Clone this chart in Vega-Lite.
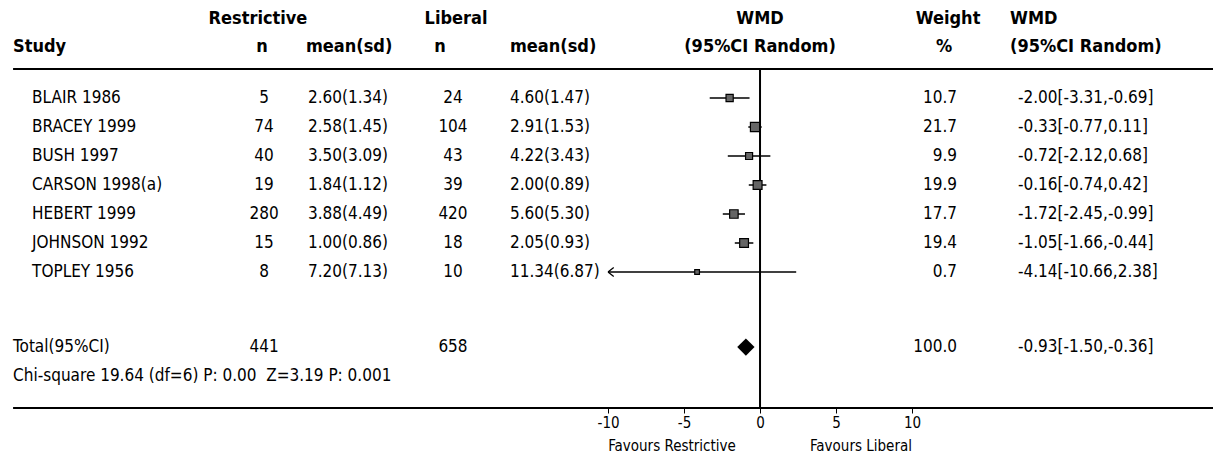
{
  "$schema": "https://vega.github.io/schema/vega-lite/v6.json",
  "width": 1213,
  "height": 408,
  "padding": 0,
  "autosize": {"type": "pad"},
  "background": "white",
  "config": {
    "view": {"stroke": null},
    "text": {"font": "DejaVu Sans Condensed, sans-serif", "fontSize": 17, "color": "black", "baseline": "middle"},
    "axisX": {"domain": false, "grid": false, "ticks": true, "tickSize": 5, "tickColor": "black", "tickWidth": 1, "labelFont": "DejaVu Sans Condensed, sans-serif", "labelFontSize": 15, "labelColor": "black", "labelPadding": 2, "labelFlush": false, "labelOverlap": false, "title": null}
  },
  "datasets": {
    "studies": [
      {"study": "BLAIR 1986", "row": 1, "kind": "study", "n_r": 5, "msd_r": "2.60(1.34)", "n_l": 24, "msd_l": "4.60(1.47)", "weight": 10.7, "wmd": -2.00, "lo": -3.31, "hi": -0.69, "wmd_ci": "-2.00[-3.31,-0.69]"},
      {"study": "BRACEY 1999", "row": 2, "kind": "study", "n_r": 74, "msd_r": "2.58(1.45)", "n_l": 104, "msd_l": "2.91(1.53)", "weight": 21.7, "wmd": -0.33, "lo": -0.77, "hi": 0.11, "wmd_ci": "-0.33[-0.77,0.11]"},
      {"study": "BUSH 1997", "row": 3, "kind": "study", "n_r": 40, "msd_r": "3.50(3.09)", "n_l": 43, "msd_l": "4.22(3.43)", "weight": 9.9, "wmd": -0.72, "lo": -2.12, "hi": 0.68, "wmd_ci": "-0.72[-2.12,0.68]"},
      {"study": "CARSON 1998(a)", "row": 4, "kind": "study", "n_r": 19, "msd_r": "1.84(1.12)", "n_l": 39, "msd_l": "2.00(0.89)", "weight": 19.9, "wmd": -0.16, "lo": -0.74, "hi": 0.42, "wmd_ci": "-0.16[-0.74,0.42]"},
      {"study": "HEBERT 1999", "row": 5, "kind": "study", "n_r": 280, "msd_r": "3.88(4.49)", "n_l": 420, "msd_l": "5.60(5.30)", "weight": 17.7, "wmd": -1.72, "lo": -2.45, "hi": -0.99, "wmd_ci": "-1.72[-2.45,-0.99]"},
      {"study": "JOHNSON 1992", "row": 6, "kind": "study", "n_r": 15, "msd_r": "1.00(0.86)", "n_l": 18, "msd_l": "2.05(0.93)", "weight": 19.4, "wmd": -1.05, "lo": -1.66, "hi": -0.44, "wmd_ci": "-1.05[-1.66,-0.44]"},
      {"study": "TOPLEY 1956", "row": 7, "kind": "study", "n_r": 8, "msd_r": "7.20(7.13)", "n_l": 10, "msd_l": "11.34(6.87)", "weight": 0.7, "wmd": -4.14, "lo": -10.66, "hi": 2.38, "wmd_ci": "-4.14[-10.66,2.38]"},
      {"study": "Total(95%CI)", "row": 9.59, "kind": "total", "n_r": 441, "msd_r": "", "n_l": 658, "msd_l": "", "weight": 100.0, "wmd": -0.93, "lo": -1.50, "hi": -0.36, "wmd_ci": "-0.93[-1.50,-0.36]"}
    ]
  },
  "data": {"name": "studies"},
  "layer": [
    {
      "data": {"values": [{"z": 0}]},
      "mark": {"type": "rule", "color": "black", "strokeWidth": 2},
      "encoding": {
        "x": {"datum": 0, "type": "quantitative", "scale": {"domain": [-50, 29.8], "nice": false, "zero": false}, "axis": {"values": [-10, -5, 0, 5, 10], "labelExpr": "'' + datum.value", "orient": "bottom"}},
        "y": {"datum": 0, "type": "quantitative", "scale": {"domain": [-2.38, 11.69], "reverse": true, "nice": false, "zero": false}, "axis": null},
        "y2": {"datum": 11.69}
      }
    },
    {
      "data": {"values": [{"z": 0}]},
      "mark": {"type": "rule", "color": "black", "strokeWidth": 2},
      "encoding": {
        "x": {"datum": -49.14, "type": "quantitative", "scale": {"domain": [-50, 29.8], "nice": false, "zero": false}, "axis": {"values": [-10, -5, 0, 5, 10], "labelExpr": "'' + datum.value", "orient": "bottom"}},
        "x2": {"datum": 29.8},
        "y": {"datum": 0, "type": "quantitative", "scale": {"domain": [-2.38, 11.69], "reverse": true, "nice": false, "zero": false}, "axis": null}
      }
    },
    {
      "data": {"values": [{"z": 0}]},
      "mark": {"type": "rule", "color": "black", "strokeWidth": 2},
      "encoding": {
        "x": {"datum": -49.14, "type": "quantitative", "scale": {"domain": [-50, 29.8], "nice": false, "zero": false}, "axis": {"values": [-10, -5, 0, 5, 10], "labelExpr": "'' + datum.value", "orient": "bottom"}},
        "x2": {"datum": 29.8},
        "y": {"datum": 11.69, "type": "quantitative", "scale": {"domain": [-2.38, 11.69], "reverse": true, "nice": false, "zero": false}, "axis": null}
      }
    },
    {
      "transform": [{"filter": "datum.kind == 'study' && datum.lo >= -10"}],
      "mark": {"type": "rule", "color": "black", "strokeWidth": 1.5},
      "encoding": {
        "x": {"field": "lo", "type": "quantitative", "scale": {"domain": [-50, 29.8], "nice": false, "zero": false}, "axis": {"values": [-10, -5, 0, 5, 10], "labelExpr": "'' + datum.value", "orient": "bottom"}},
        "x2": {"field": "hi"},
        "y": {"field": "row", "type": "quantitative", "scale": {"domain": [-2.38, 11.69], "reverse": true, "nice": false, "zero": false}, "axis": null}
      }
    },
    {
      "transform": [{"filter": "datum.kind == 'study' && datum.lo < -10"}],
      "mark": {"type": "rule", "color": "black", "strokeWidth": 1.5},
      "encoding": {
        "x": {"field": "hi", "type": "quantitative", "scale": {"domain": [-50, 29.8], "nice": false, "zero": false}, "axis": {"values": [-10, -5, 0, 5, 10], "labelExpr": "'' + datum.value", "orient": "bottom"}},
        "x2": {"datum": -10},
        "y": {"field": "row", "type": "quantitative", "scale": {"domain": [-2.38, 11.69], "reverse": true, "nice": false, "zero": false}, "axis": null}
      }
    },
    {
      "transform": [{"filter": "datum.kind == 'study' && datum.lo < -10"}],
      "mark": {"type": "point", "shape": "M 0 0 L 1 -0.8 M 0 0 L 1 0.8", "filled": false, "stroke": "black", "strokeWidth": 1.3, "size": 130, "opacity": 1},
      "encoding": {
        "x": {"datum": -10, "type": "quantitative", "scale": {"domain": [-50, 29.8], "nice": false, "zero": false}, "axis": {"values": [-10, -5, 0, 5, 10], "labelExpr": "'' + datum.value", "orient": "bottom"}},
        "y": {"field": "row", "type": "quantitative", "scale": {"domain": [-2.38, 11.69], "reverse": true, "nice": false, "zero": false}, "axis": null}
      }
    },
    {
      "transform": [{"filter": "datum.kind == 'study'"}],
      "mark": {"type": "point", "shape": "square", "filled": true, "fill": "#666", "stroke": "black", "strokeWidth": 1.2, "opacity": 1},
      "encoding": {
        "x": {"field": "wmd", "type": "quantitative", "scale": {"domain": [-50, 29.8], "nice": false, "zero": false}, "axis": {"values": [-10, -5, 0, 5, 10], "labelExpr": "'' + datum.value", "orient": "bottom"}},
        "y": {"field": "row", "type": "quantitative", "scale": {"domain": [-2.38, 11.69], "reverse": true, "nice": false, "zero": false}, "axis": null},
        "size": {"field": "weight", "type": "quantitative", "scale": {"domain": [0, 22], "range": [20, 85]}, "legend": null}
      }
    },
    {
      "transform": [{"filter": "datum.kind == 'total'"}],
      "mark": {"type": "point", "shape": "diamond", "filled": true, "color": "black", "size": 300, "opacity": 1},
      "encoding": {
        "x": {"field": "wmd", "type": "quantitative", "scale": {"domain": [-50, 29.8], "nice": false, "zero": false}, "axis": {"values": [-10, -5, 0, 5, 10], "labelExpr": "'' + datum.value", "orient": "bottom"}},
        "y": {"field": "row", "type": "quantitative", "scale": {"domain": [-2.38, 11.69], "reverse": true, "nice": false, "zero": false}, "axis": null}
      }
    },
    {
      "transform": [{"filter": "datum.kind == 'study'"}],
      "mark": {"type": "text", "align": "left"},
      "encoding": {
        "x": {"datum": -47.89, "type": "quantitative", "scale": {"domain": [-50, 29.8], "nice": false, "zero": false}, "axis": {"values": [-10, -5, 0, 5, 10], "labelExpr": "'' + datum.value", "orient": "bottom"}},
        "y": {"field": "row", "type": "quantitative", "scale": {"domain": [-2.38, 11.69], "reverse": true, "nice": false, "zero": false}, "axis": null},
        "text": {"field": "study", "type": "nominal"}
      }
    },
    {
      "transform": [{"filter": "datum.kind == 'total'"}],
      "mark": {"type": "text", "align": "left"},
      "encoding": {
        "x": {"datum": -49.14, "type": "quantitative", "scale": {"domain": [-50, 29.8], "nice": false, "zero": false}, "axis": {"values": [-10, -5, 0, 5, 10], "labelExpr": "'' + datum.value", "orient": "bottom"}},
        "y": {"field": "row", "type": "quantitative", "scale": {"domain": [-2.38, 11.69], "reverse": true, "nice": false, "zero": false}, "axis": null},
        "text": {"field": "study", "type": "nominal"}
      }
    },
    {
      "mark": {"type": "text", "align": "center"},
      "encoding": {
        "x": {"datum": -32.63, "type": "quantitative", "scale": {"domain": [-50, 29.8], "nice": false, "zero": false}, "axis": {"values": [-10, -5, 0, 5, 10], "labelExpr": "'' + datum.value", "orient": "bottom"}},
        "y": {"field": "row", "type": "quantitative", "scale": {"domain": [-2.38, 11.69], "reverse": true, "nice": false, "zero": false}, "axis": null},
        "text": {"field": "n_r", "type": "nominal"}
      }
    },
    {
      "mark": {"type": "text", "align": "left"},
      "encoding": {
        "x": {"datum": -29.74, "type": "quantitative", "scale": {"domain": [-50, 29.8], "nice": false, "zero": false}, "axis": {"values": [-10, -5, 0, 5, 10], "labelExpr": "'' + datum.value", "orient": "bottom"}},
        "y": {"field": "row", "type": "quantitative", "scale": {"domain": [-2.38, 11.69], "reverse": true, "nice": false, "zero": false}, "axis": null},
        "text": {"field": "msd_r", "type": "nominal"}
      }
    },
    {
      "mark": {"type": "text", "align": "center"},
      "encoding": {
        "x": {"datum": -20.2, "type": "quantitative", "scale": {"domain": [-50, 29.8], "nice": false, "zero": false}, "axis": {"values": [-10, -5, 0, 5, 10], "labelExpr": "'' + datum.value", "orient": "bottom"}},
        "y": {"field": "row", "type": "quantitative", "scale": {"domain": [-2.38, 11.69], "reverse": true, "nice": false, "zero": false}, "axis": null},
        "text": {"field": "n_l", "type": "nominal"}
      }
    },
    {
      "mark": {"type": "text", "align": "left"},
      "encoding": {
        "x": {"datum": -16.45, "type": "quantitative", "scale": {"domain": [-50, 29.8], "nice": false, "zero": false}, "axis": {"values": [-10, -5, 0, 5, 10], "labelExpr": "'' + datum.value", "orient": "bottom"}},
        "y": {"field": "row", "type": "quantitative", "scale": {"domain": [-2.38, 11.69], "reverse": true, "nice": false, "zero": false}, "axis": null},
        "text": {"field": "msd_l", "type": "nominal"}
      }
    },
    {
      "mark": {"type": "text", "align": "right"},
      "encoding": {
        "x": {"datum": 12.96, "type": "quantitative", "scale": {"domain": [-50, 29.8], "nice": false, "zero": false}, "axis": {"values": [-10, -5, 0, 5, 10], "labelExpr": "'' + datum.value", "orient": "bottom"}},
        "y": {"field": "row", "type": "quantitative", "scale": {"domain": [-2.38, 11.69], "reverse": true, "nice": false, "zero": false}, "axis": null},
        "text": {"field": "weight", "type": "quantitative", "format": ".1f"}
      }
    },
    {
      "mark": {"type": "text", "align": "left"},
      "encoding": {
        "x": {"datum": 16.97, "type": "quantitative", "scale": {"domain": [-50, 29.8], "nice": false, "zero": false}, "axis": {"values": [-10, -5, 0, 5, 10], "labelExpr": "'' + datum.value", "orient": "bottom"}},
        "y": {"field": "row", "type": "quantitative", "scale": {"domain": [-2.38, 11.69], "reverse": true, "nice": false, "zero": false}, "axis": null},
        "text": {"field": "wmd_ci", "type": "nominal"}
      }
    },
    {
      "data": {"values": [{"label": "Chi-square 19.64 (df=6) P: 0.00\u00a0 Z=3.19 P: 0.001"}]},
      "mark": {"type": "text", "align": "left"},
      "encoding": {
        "x": {"datum": -49.14, "type": "quantitative", "scale": {"domain": [-50, 29.8], "nice": false, "zero": false}, "axis": {"values": [-10, -5, 0, 5, 10], "labelExpr": "'' + datum.value", "orient": "bottom"}},
        "y": {"datum": 10.59, "type": "quantitative", "scale": {"domain": [-2.38, 11.69], "reverse": true, "nice": false, "zero": false}, "axis": null},
        "text": {"field": "label", "type": "nominal"}
      }
    },
    {
      "data": {"values": [{"label": "Favours Restrictive"}]},
      "mark": {"type": "text", "align": "center", "fontSize": 15},
      "encoding": {
        "x": {"datum": -5.79, "type": "quantitative", "scale": {"domain": [-50, 29.8], "nice": false, "zero": false}, "axis": {"values": [-10, -5, 0, 5, 10], "labelExpr": "'' + datum.value", "orient": "bottom"}},
        "y": {"datum": 13.0, "type": "quantitative", "scale": {"domain": [-2.38, 11.69], "reverse": true, "nice": false, "zero": false}, "axis": null},
        "text": {"field": "label", "type": "nominal"}
      }
    },
    {
      "data": {"values": [{"label": "Favours Liberal"}]},
      "mark": {"type": "text", "align": "center", "fontSize": 15},
      "encoding": {
        "x": {"datum": 6.64, "type": "quantitative", "scale": {"domain": [-50, 29.8], "nice": false, "zero": false}, "axis": {"values": [-10, -5, 0, 5, 10], "labelExpr": "'' + datum.value", "orient": "bottom"}},
        "y": {"datum": 13.0, "type": "quantitative", "scale": {"domain": [-2.38, 11.69], "reverse": true, "nice": false, "zero": false}, "axis": null},
        "text": {"field": "label", "type": "nominal"}
      }
    },
    {
      "data": {"values": [{"label": "Restrictive"}]},
      "mark": {"type": "text", "align": "center", "fontSize": 18, "fontWeight": "bold"},
      "encoding": {
        "x": {"datum": -33.03, "type": "quantitative", "scale": {"domain": [-50, 29.8], "nice": false, "zero": false}, "axis": {"values": [-10, -5, 0, 5, 10], "labelExpr": "'' + datum.value", "orient": "bottom"}},
        "y": {"datum": -1.72, "type": "quantitative", "scale": {"domain": [-2.38, 11.69], "reverse": true, "nice": false, "zero": false}, "axis": null},
        "text": {"field": "label", "type": "nominal"}
      }
    },
    {
      "data": {"values": [{"label": "Liberal"}]},
      "mark": {"type": "text", "align": "center", "fontSize": 18, "fontWeight": "bold"},
      "encoding": {
        "x": {"datum": -20.0, "type": "quantitative", "scale": {"domain": [-50, 29.8], "nice": false, "zero": false}, "axis": {"values": [-10, -5, 0, 5, 10], "labelExpr": "'' + datum.value", "orient": "bottom"}},
        "y": {"datum": -1.72, "type": "quantitative", "scale": {"domain": [-2.38, 11.69], "reverse": true, "nice": false, "zero": false}, "axis": null},
        "text": {"field": "label", "type": "nominal"}
      }
    },
    {
      "data": {"values": [{"label": "WMD"}]},
      "mark": {"type": "text", "align": "center", "fontSize": 18, "fontWeight": "bold"},
      "encoding": {
        "x": {"datum": 0, "type": "quantitative", "scale": {"domain": [-50, 29.8], "nice": false, "zero": false}, "axis": {"values": [-10, -5, 0, 5, 10], "labelExpr": "'' + datum.value", "orient": "bottom"}},
        "y": {"datum": -1.72, "type": "quantitative", "scale": {"domain": [-2.38, 11.69], "reverse": true, "nice": false, "zero": false}, "axis": null},
        "text": {"field": "label", "type": "nominal"}
      }
    },
    {
      "data": {"values": [{"label": "Weight"}]},
      "mark": {"type": "text", "align": "center", "fontSize": 18, "fontWeight": "bold"},
      "encoding": {
        "x": {"datum": 12.37, "type": "quantitative", "scale": {"domain": [-50, 29.8], "nice": false, "zero": false}, "axis": {"values": [-10, -5, 0, 5, 10], "labelExpr": "'' + datum.value", "orient": "bottom"}},
        "y": {"datum": -1.72, "type": "quantitative", "scale": {"domain": [-2.38, 11.69], "reverse": true, "nice": false, "zero": false}, "axis": null},
        "text": {"field": "label", "type": "nominal"}
      }
    },
    {
      "data": {"values": [{"label": "WMD"}]},
      "mark": {"type": "text", "align": "left", "fontSize": 18, "fontWeight": "bold"},
      "encoding": {
        "x": {"datum": 16.45, "type": "quantitative", "scale": {"domain": [-50, 29.8], "nice": false, "zero": false}, "axis": {"values": [-10, -5, 0, 5, 10], "labelExpr": "'' + datum.value", "orient": "bottom"}},
        "y": {"datum": -1.72, "type": "quantitative", "scale": {"domain": [-2.38, 11.69], "reverse": true, "nice": false, "zero": false}, "axis": null},
        "text": {"field": "label", "type": "nominal"}
      }
    },
    {
      "data": {"values": [{"label": "Study"}]},
      "mark": {"type": "text", "align": "left", "fontSize": 18, "fontWeight": "bold"},
      "encoding": {
        "x": {"datum": -49.14, "type": "quantitative", "scale": {"domain": [-50, 29.8], "nice": false, "zero": false}, "axis": {"values": [-10, -5, 0, 5, 10], "labelExpr": "'' + datum.value", "orient": "bottom"}},
        "y": {"datum": -0.76, "type": "quantitative", "scale": {"domain": [-2.38, 11.69], "reverse": true, "nice": false, "zero": false}, "axis": null},
        "text": {"field": "label", "type": "nominal"}
      }
    },
    {
      "data": {"values": [{"label": "n"}]},
      "mark": {"type": "text", "align": "center", "fontSize": 18, "fontWeight": "bold"},
      "encoding": {
        "x": {"datum": -32.76, "type": "quantitative", "scale": {"domain": [-50, 29.8], "nice": false, "zero": false}, "axis": {"values": [-10, -5, 0, 5, 10], "labelExpr": "'' + datum.value", "orient": "bottom"}},
        "y": {"datum": -0.76, "type": "quantitative", "scale": {"domain": [-2.38, 11.69], "reverse": true, "nice": false, "zero": false}, "axis": null},
        "text": {"field": "label", "type": "nominal"}
      }
    },
    {
      "data": {"values": [{"label": "mean(sd)"}]},
      "mark": {"type": "text", "align": "left", "fontSize": 18, "fontWeight": "bold"},
      "encoding": {
        "x": {"datum": -29.87, "type": "quantitative", "scale": {"domain": [-50, 29.8], "nice": false, "zero": false}, "axis": {"values": [-10, -5, 0, 5, 10], "labelExpr": "'' + datum.value", "orient": "bottom"}},
        "y": {"datum": -0.76, "type": "quantitative", "scale": {"domain": [-2.38, 11.69], "reverse": true, "nice": false, "zero": false}, "axis": null},
        "text": {"field": "label", "type": "nominal"}
      }
    },
    {
      "data": {"values": [{"label": "n"}]},
      "mark": {"type": "text", "align": "center", "fontSize": 18, "fontWeight": "bold"},
      "encoding": {
        "x": {"datum": -21.05, "type": "quantitative", "scale": {"domain": [-50, 29.8], "nice": false, "zero": false}, "axis": {"values": [-10, -5, 0, 5, 10], "labelExpr": "'' + datum.value", "orient": "bottom"}},
        "y": {"datum": -0.76, "type": "quantitative", "scale": {"domain": [-2.38, 11.69], "reverse": true, "nice": false, "zero": false}, "axis": null},
        "text": {"field": "label", "type": "nominal"}
      }
    },
    {
      "data": {"values": [{"label": "mean(sd)"}]},
      "mark": {"type": "text", "align": "left", "fontSize": 18, "fontWeight": "bold"},
      "encoding": {
        "x": {"datum": -16.45, "type": "quantitative", "scale": {"domain": [-50, 29.8], "nice": false, "zero": false}, "axis": {"values": [-10, -5, 0, 5, 10], "labelExpr": "'' + datum.value", "orient": "bottom"}},
        "y": {"datum": -0.76, "type": "quantitative", "scale": {"domain": [-2.38, 11.69], "reverse": true, "nice": false, "zero": false}, "axis": null},
        "text": {"field": "label", "type": "nominal"}
      }
    },
    {
      "data": {"values": [{"label": "(95%CI Random)"}]},
      "mark": {"type": "text", "align": "center", "fontSize": 18, "fontWeight": "bold"},
      "encoding": {
        "x": {"datum": 0, "type": "quantitative", "scale": {"domain": [-50, 29.8], "nice": false, "zero": false}, "axis": {"values": [-10, -5, 0, 5, 10], "labelExpr": "'' + datum.value", "orient": "bottom"}},
        "y": {"datum": -0.76, "type": "quantitative", "scale": {"domain": [-2.38, 11.69], "reverse": true, "nice": false, "zero": false}, "axis": null},
        "text": {"field": "label", "type": "nominal"}
      }
    },
    {
      "data": {"values": [{"label": "%"}]},
      "mark": {"type": "text", "align": "center", "fontSize": 18, "fontWeight": "bold"},
      "encoding": {
        "x": {"datum": 12.11, "type": "quantitative", "scale": {"domain": [-50, 29.8], "nice": false, "zero": false}, "axis": {"values": [-10, -5, 0, 5, 10], "labelExpr": "'' + datum.value", "orient": "bottom"}},
        "y": {"datum": -0.76, "type": "quantitative", "scale": {"domain": [-2.38, 11.69], "reverse": true, "nice": false, "zero": false}, "axis": null},
        "text": {"field": "label", "type": "nominal"}
      }
    },
    {
      "data": {"values": [{"label": "(95%CI Random)"}]},
      "mark": {"type": "text", "align": "left", "fontSize": 18, "fontWeight": "bold"},
      "encoding": {
        "x": {"datum": 16.45, "type": "quantitative", "scale": {"domain": [-50, 29.8], "nice": false, "zero": false}, "axis": {"values": [-10, -5, 0, 5, 10], "labelExpr": "'' + datum.value", "orient": "bottom"}},
        "y": {"datum": -0.76, "type": "quantitative", "scale": {"domain": [-2.38, 11.69], "reverse": true, "nice": false, "zero": false}, "axis": null},
        "text": {"field": "label", "type": "nominal"}
      }
    }
  ]
}
